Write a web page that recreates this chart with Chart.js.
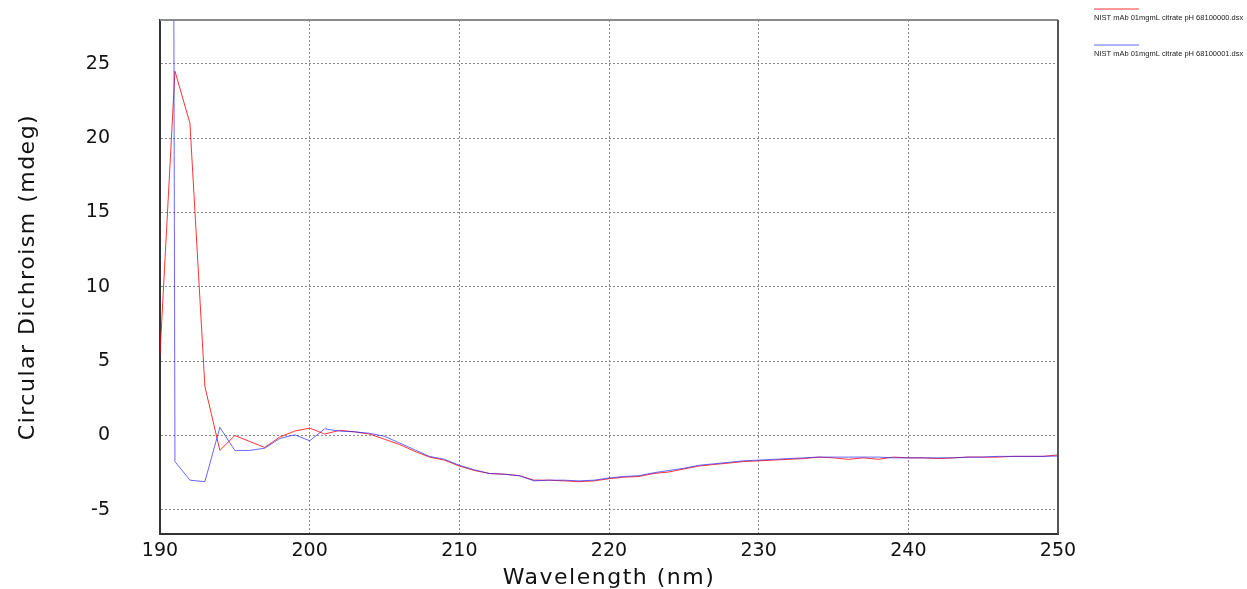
<!DOCTYPE html>
<html>
<head>
<meta charset="utf-8">
<script src="https://cdn.jsdelivr.net/npm/chart.js@4.4.1/dist/chart.umd.min.js"></script>
<style>
  html, body { margin: 0; padding: 0; background: #fff; }
  #wrap { width: 1247px; height: 589px; }
</style>
</head>
<body>
<div id="wrap"><canvas id="cd" width="1247" height="589"></canvas></div>
<script>
// wavelength grid (nm), one reading per nm
const wavelengths = [
  190,191,192,193,194,195,196,197,198,199,
  200,201,202,203,204,205,206,207,208,209,
  210,211,212,213,214,215,216,217,218,219,
  220,221,222,223,224,225,226,227,228,229,
  230,231,232,233,234,235,236,237,238,239,
  240,241,242,243,244,245,246,247,248,249,250
];

// scan 68100000 (red)
const scanA = [
  5.5, 24.5, 21.0, 3.3, -1.0, 0.0, -0.4, -0.8, -0.1, 0.3,
  0.5, 0.1, 0.35, 0.25, 0.1, -0.25, -0.6, -1.05, -1.45, -1.65,
  -2.05, -2.35, -2.55, -2.6, -2.7, -3.0, -3.0, -3.05, -3.1, -3.05,
  -2.9, -2.8, -2.75, -2.55, -2.45, -2.25, -2.05, -1.95, -1.85, -1.75,
  -1.7, -1.65, -1.6, -1.55, -1.45, -1.5, -1.6, -1.5, -1.6, -1.45,
  -1.5, -1.5, -1.55, -1.5, -1.45, -1.45, -1.45, -1.4, -1.4, -1.4, -1.3
];

// scan 68100001 (blue) - first reading is far off scale
const scanB = [
  400, -1.75, -3.0, -3.1, 0.55, -1.0, -1.0, -0.85, -0.2, 0.05,
  -0.35, 0.45, 0.3, 0.25, 0.15, -0.05, -0.5, -0.95, -1.4, -1.6,
  -2.0, -2.3, -2.55, -2.6, -2.7, -3.05, -3.0, -3.0, -3.05, -3.0,
  -2.85, -2.75, -2.7, -2.5, -2.35, -2.2, -2.0, -1.9, -1.8, -1.7,
  -1.65, -1.6, -1.55, -1.5, -1.45, -1.45, -1.45, -1.45, -1.45, -1.5,
  -1.5, -1.5, -1.5, -1.5, -1.45, -1.45, -1.4, -1.4, -1.4, -1.4, -1.38
];

const seriesNames = [
  'NIST mAb 01mgmL citrate pH 68100000.dsx',
  'NIST mAb 01mgmL citrate pH 68100001.dsx'
];
const seriesColors = ['rgba(255,0,0,0.8)', 'rgba(40,40,255,0.7)'];

const xTicks = [190, 200, 210, 220, 230, 240, 250];
const yTicks = [-5, 0, 5, 10, 15, 20, 25];

const toPoints = (vals) => vals.map((v, i) => ({ x: wavelengths[i], y: v }));

const tickFont = { family: 'DejaVu Sans', size: 19 };
const titleFont = { family: 'DejaVu Sans', size: 22 };

// axis titles in the original are spaced out a little
function spaceTitle(s){
  if (s._spaced) return;
  s._spaced = true;
  const orig = s.drawTitle;
  s.drawTitle = function(){
    this.ctx.save();
    this.ctx.letterSpacing = '1.5px';
    orig.apply(this, arguments);
    this.ctx.restore();
  };
}

// frame: grey top/right, legend in right margin
const frameAndLegend = {
  id: 'frameAndLegend',
  afterDraw(chart){
    const { ctx, chartArea: a } = chart;
    ctx.save();
    ctx.strokeStyle = '#8a8a8a';
    ctx.lineWidth = 2;
    ctx.beginPath();
    ctx.moveTo(a.left, a.top);
    ctx.lineTo(a.right, a.top);
    ctx.stroke();
    ctx.strokeStyle = '#555';
    ctx.beginPath();
    ctx.moveTo(a.right, a.top);
    ctx.lineTo(a.right, a.bottom);
    ctx.stroke();

    // legend
    const lx = a.right + 36;
    ctx.font = '7.5px "Liberation Sans"';
    ctx.fillStyle = '#222';
    ctx.textBaseline = 'middle';
    seriesNames.forEach((name, i) => {
      const y0 = 9 + i * 36;
      ctx.strokeStyle = seriesColors[i];
      ctx.lineWidth = 1;
      ctx.beginPath();
      ctx.moveTo(lx, y0);
      ctx.lineTo(lx + 45, y0);
      ctx.stroke();
      ctx.fillText(name, lx, y0 + 9);
    });
    ctx.restore();
  }
};

new Chart(document.getElementById('cd'), {
  type: 'line',
  data: {
    datasets: [
      {
        label: seriesNames[1],
        data: toPoints(scanB),
        borderColor: seriesColors[1],
        borderWidth: 1,
        pointRadius: 0,
        tension: 0,
        fill: false
      },
      {
        label: seriesNames[0],
        data: toPoints(scanA),
        borderColor: seriesColors[0],
        borderWidth: 1,
        pointRadius: 0,
        tension: 0,
        fill: false
      }
    ]
  },
  options: {
    responsive: false,
    animation: false,
    devicePixelRatio: 1,
    layout: { padding: { top: 20, right: 189, left: 0, bottom: 0 } },
    plugins: { legend: { display: false }, tooltip: { enabled: false } },
    scales: {
      x: {
        type: 'linear',
        min: 190,
        max: 250,
        afterBuildTicks: (s) => { s.ticks = xTicks.map(v => ({ value: v })); },
        afterFit: (s) => { s.height = 55; spaceTitle(s); },
        ticks: { font: tickFont, color: '#111', padding: 6, maxRotation: 0 },
        grid: { color: '#8a8a8a', lineWidth: 1, drawTicks: false },
        border: { color: '#333', width: 2, dash: [2, 2] },
        title: { display: true, text: 'Wavelength (nm)', font: titleFont, color: '#111', padding: { top: 0, bottom: -2 } }
      },
      y: {
        min: -6.62,
        max: 27.94,
        afterBuildTicks: (s) => { s.ticks = yTicks.map(v => ({ value: v })); },
        afterFit: (s) => { s.width = 160; s.paddingTop = 0; s.paddingBottom = 0; spaceTitle(s); },
        ticks: { font: tickFont, color: '#111', padding: 50 },
        grid: { color: '#8a8a8a', lineWidth: 1, drawTicks: false },
        border: { color: '#333', width: 2, dash: [2, 2] },
        title: { display: true, text: 'Circular Dichroism (mdeg)', font: titleFont, color: '#111', padding: { top: 15, bottom: 0 } }
      }
    }
  },
  plugins: [frameAndLegend]
});
</script>
</body>
</html>
